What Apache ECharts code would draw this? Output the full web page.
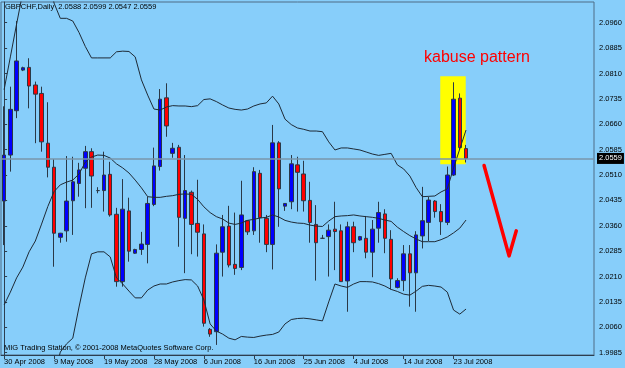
<!DOCTYPE html>
<html><head><meta charset="utf-8">
<script src="https://cdn.jsdelivr.net/npm/echarts@6/dist/echarts.min.js"></script>
<style>html,body{margin:0;padding:0;background:#87cefa;}#c{width:625px;height:368px;}</style>
</head><body><div id="c"></div>
<script>
const symbolName = 'GBPCHF,Daily';
const dates = ['30 Apr 2008','1 May 2008','2 May 2008','4 May 2008','5 May 2008','6 May 2008','7 May 2008','8 May 2008',
'9 May 2008','11 May 2008','12 May 2008','13 May 2008','14 May 2008','15 May 2008','16 May 2008','18 May 2008',
'19 May 2008','20 May 2008','21 May 2008','22 May 2008','23 May 2008','25 May 2008','26 May 2008','27 May 2008',
'28 May 2008','29 May 2008','30 May 2008','1 Jun 2008','2 Jun 2008','3 Jun 2008','4 Jun 2008','5 Jun 2008',
'6 Jun 2008','8 Jun 2008','9 Jun 2008','10 Jun 2008','11 Jun 2008','12 Jun 2008','13 Jun 2008','15 Jun 2008',
'16 Jun 2008','17 Jun 2008','18 Jun 2008','19 Jun 2008','20 Jun 2008','22 Jun 2008','23 Jun 2008','24 Jun 2008',
'25 Jun 2008','26 Jun 2008','27 Jun 2008','29 Jun 2008','30 Jun 2008','1 Jul 2008','2 Jul 2008','3 Jul 2008',
'4 Jul 2008','6 Jul 2008','7 Jul 2008','8 Jul 2008','9 Jul 2008','10 Jul 2008','11 Jul 2008','13 Jul 2008',
'14 Jul 2008','15 Jul 2008','16 Jul 2008','17 Jul 2008','18 Jul 2008','20 Jul 2008','21 Jul 2008','22 Jul 2008',
'23 Jul 2008','24 Jul 2008','25 Jul 2008'];

const open = [2.0433,2.0569,2.0700,2.0820,2.0828,2.0776,2.0751,2.0604,2.0533,2.0326,2.0345,2.0434,2.0485,2.0530,2.0579,2.0464,
2.0464,2.0512,2.0394,2.0195,2.0404,2.0279,2.0290,2.0305,2.0423,2.0535,2.0738,2.0574,2.0592,2.0382,2.0459,2.0367,
2.0336,2.0054,2.0047,2.0282,2.0359,2.0246,2.0237,2.0375,2.0345,2.0515,2.0382,2.0305,2.0605,2.0418,2.0431,2.0540,
2.0513,2.0435,2.0364,2.0323,2.0328,2.0350,2.0345,2.0197,2.0357,2.0318,2.0323,2.0282,2.0353,2.0395,2.0320,2.0178,
2.0198,2.0277,2.0221,2.0330,2.0370,2.0433,2.0402,2.0370,2.0510,2.0737,2.0588];
const high = [2.0713,2.0771,2.0965,2.0830,2.0855,2.0786,2.0771,2.0725,2.0557,2.0339,2.0566,2.0564,2.0546,2.0596,2.0589,2.0474,
2.0579,2.0549,2.0413,2.0498,2.0443,2.0292,2.0342,2.0446,2.0591,2.0764,2.0781,2.0605,2.0599,2.0569,2.0464,2.0496,
2.0364,2.0058,2.0305,2.0392,2.0419,2.0399,2.0493,2.0377,2.0533,2.0525,2.0392,2.0658,2.0610,2.0427,2.0569,2.0564,
2.0552,2.0490,2.0421,2.0333,2.0364,2.0431,2.0364,2.0372,2.0372,2.0330,2.0389,2.0377,2.0431,2.0409,2.0347,2.0205,
2.0303,2.0303,2.0344,2.0475,2.0446,2.0436,2.0424,2.0535,2.0784,2.0751,2.0599];
const low = [2.0303,2.0520,2.0678,2.0817,2.0707,2.0604,2.0579,2.0503,2.0239,2.0310,2.0313,2.0333,2.0446,2.0412,2.0413,2.0456,
2.0402,2.0387,2.0180,2.0180,2.0254,2.0277,2.0274,2.0249,2.0418,2.0523,2.0623,2.0561,2.0298,2.0220,2.0276,2.0269,
2.0062,2.0032,2.0008,2.0210,2.0237,2.0215,2.0229,2.0333,2.0333,2.0310,2.0282,2.0231,2.0357,2.0404,2.0409,2.0402,
2.0402,2.0310,2.0198,2.0321,2.0210,2.0229,2.0194,2.0106,2.0282,2.0316,2.0264,2.0208,2.0310,2.0279,2.0172,2.0175,
2.0167,2.0121,2.0106,2.0293,2.0315,2.0384,2.0333,2.0362,2.0507,2.0584,2.0547];
const close = [2.0569,2.0704,2.0847,2.0827,2.0773,2.0749,2.0608,2.0533,2.0338,2.0338,2.0433,2.0490,2.0525,2.0579,2.0507,2.0464,
2.0510,2.0392,2.0195,2.0409,2.0285,2.0290,2.0306,2.0426,2.0537,2.0734,2.0655,2.0589,2.0385,2.0464,2.0364,2.0341,
2.0072,2.0040,2.0279,2.0357,2.0244,2.0234,2.0392,2.0342,2.0520,2.0384,2.0305,2.0605,2.0469,2.0426,2.0543,2.0518,
2.0434,2.0370,2.0310,2.0323,2.0347,2.0343,2.0195,2.0357,2.0310,2.0328,2.0282,2.0350,2.0399,2.0323,2.0203,2.0198,
2.0277,2.0221,2.0333,2.0375,2.0436,2.0402,2.0372,2.0510,2.0734,2.0591,2.0559];

const bbUpper = [2.0762,2.0859,2.0956,2.1051,2.1116,2.1145,2.1145,2.1101,2.1018,2.0973,2.0973,2.0965,2.0931,2.0890,2.0856,2.0856,
2.0856,2.0856,2.0874,2.0876,2.0875,2.0859,2.0791,2.0746,2.0705,2.0702,2.0711,2.0715,2.0714,2.0714,2.0712,2.0715,
2.0733,2.0735,2.0727,2.0717,2.0708,2.0704,2.0702,2.0705,2.0714,2.0720,2.0723,2.0743,2.0720,2.0675,2.0659,2.0649,
2.0645,2.0640,2.0640,2.0638,2.0608,2.0584,2.0590,2.0590,2.0587,2.0584,2.0578,2.0572,2.0568,2.0571,2.0574,2.0540,
2.0528,2.0507,2.0473,2.0446,2.0447,2.0448,2.0460,2.0469,2.0531,2.0587,2.0643];
const bbMiddle = [2.0126,2.0164,2.0206,2.0238,2.0283,2.0315,2.0365,2.0417,2.0461,2.0481,2.0489,2.0495,2.0513,2.0548,2.0563,2.0569,
2.0568,2.0560,2.0543,2.0531,2.0516,2.0495,2.0472,2.0446,2.0444,2.0444,2.0447,2.0449,2.0453,2.0454,2.0453,2.0438,
2.0416,2.0399,2.0387,2.0380,2.0368,2.0364,2.0368,2.0376,2.0379,2.0383,2.0385,2.0392,2.0386,2.0376,2.0371,2.0368,
2.0367,2.0362,2.0359,2.0358,2.0374,2.0387,2.0389,2.0390,2.0392,2.0389,2.0387,2.0385,2.0382,2.0377,2.0373,2.0356,
2.0343,2.0331,2.0321,2.0313,2.0313,2.0313,2.0319,2.0327,2.0339,2.0353,2.0377];
const bbLower = [1.9491,1.9470,1.9455,1.9426,1.9449,1.9482,1.9585,1.9733,1.9910,1.9987,2.0011,2.0028,2.0120,2.0206,2.0277,2.0283,
2.0283,2.0268,2.0206,2.0188,2.0167,2.0147,2.0147,2.0170,2.0182,2.0188,2.0188,2.0194,2.0198,2.0201,2.0200,2.0182,
2.0141,2.0070,2.0049,2.0040,2.0028,2.0023,2.0033,2.0031,2.0030,2.0034,2.0037,2.0039,2.0046,2.0070,2.0083,2.0086,
2.0087,2.0085,2.0082,2.0079,2.0135,2.0188,2.0182,2.0178,2.0188,2.0195,2.0195,2.0194,2.0189,2.0182,2.0172,2.0166,
2.0158,2.0155,2.0167,2.0181,2.0184,2.0182,2.0179,2.0164,2.0111,2.0099,2.0114];

const yTickLabels = [1.9985,2.0060,2.0135,2.0210,2.0285,2.0360,2.0435,2.0510,2.0585,2.0660,2.0735,2.0810,2.0885,2.0960];
const bidPrice = 2.0559;
const arrowX = [76.89, 80.89, 82.05];
const arrowY = [2.0538, 2.0271, 2.0345];
const boxX = [69.87, 73.95];
const boxY = [2.0802, 2.0542];
const noteText = 'kabuse pattern';
const copyrightText = 'MIG Trading Station, \u00a9 2001-2008 MetaQuotes Software Corp.';

const SLOTS = 95;
const Y_MIN = 1.99782, Y_MAX = 2.10212;
const FONT = '"Liberation Sans", Arial, sans-serif';
const categories = dates.concat(new Array(SLOTS - dates.length).fill(''));
const last = dates.length - 1;
const header = symbolName + '  ' + [open[last], high[last], low[last], close[last]].map(v => v.toFixed(4)).join(' ');
const candles = dates.map((d, i) => [open[i], close[i], low[i], high[i]]);
const labelEvery = (idx, val) => idx % 8 === 0 && val !== '';

const chart = echarts.init(document.getElementById('c'), null, {renderer: 'canvas'});
chart.setOption({
  animation: false,
  backgroundColor: '#87cefa',
  title: {text: header, left: 5, top: 3, padding: 0,
    textStyle: {fontSize: 7.5, fontWeight: 'normal', color: '#000', fontFamily: FONT}},
  grid: {left: 1, right: 31, top: 2, bottom: 13, show: true, borderColor: '#4f6d86', borderWidth: 1, backgroundColor: 'transparent'},
  xAxis: [{
    type: 'category', data: categories, boundaryGap: true,
    axisLine: {show: true, lineStyle: {color: '#2c3e50'}},
    axisTick: {show: true, alignWithLabel: true, interval: labelEvery, length: 4, lineStyle: {color: '#2c3e50'}},
    axisLabel: {interval: labelEvery, align: 'left', margin: 3, fontSize: 7.5, color: '#000', fontFamily: FONT},
    splitLine: {show: false}
  }, {
    type: 'value', min: -0.5, max: SLOTS - 0.5, show: false
  }],
  yAxis: {
    type: 'value', position: 'right', min: Y_MIN, max: Y_MAX,
    splitLine: {show: false},
    axisLine: {show: true, lineStyle: {color: '#2c3e50'}},
    axisTick: {show: true, length: 3, customValues: yTickLabels, lineStyle: {color: '#2c3e50'}},
    axisLabel: {customValues: yTickLabels, formatter: v => v.toFixed(4), margin: 5, fontSize: 7.5, color: '#000', fontFamily: FONT, hideOverlap: false}
  },
  graphic: [
    {type: 'text', left: 424, top: 50, z: 100, style: {text: noteText, fill: '#ff0000', fontSize: 16, fontFamily: FONT}},
    {type: 'text', left: 4, top: 344, z: 100, style: {text: copyrightText, fill: '#000', fontSize: 7.5, fontFamily: FONT}}
  ],
  series: [
    {
      type: 'line', xAxisIndex: 1, z: 1, data: [[boxX[0], boxY[0]]], showSymbol: false, symbol: 'none',
      lineStyle: {width: 0}, silent: true,
      markArea: {silent: true, itemStyle: {color: '#ffff00', opacity: 1},
        data: [[{coord: [boxX[0], boxY[0]]}, {coord: [boxX[1], boxY[1]]}]]}
    },
    {
      type: 'line', xAxisIndex: 1, z: 2, data: [[boxX[0], bidPrice]], showSymbol: false, symbol: 'none',
      lineStyle: {width: 0}, silent: true,
      markLine: {silent: true, symbol: ['none', 'none'], animation: false, precision: 4,
        lineStyle: {color: '#7896ab', width: 1.5, type: 'solid'},
        label: {show: true, position: 'end', distance: 3, formatter: bidPrice.toFixed(4), color: '#fff',
          backgroundColor: '#000', padding: [2, 2, 1, 2], fontSize: 7.5, fontFamily: FONT},
        data: [{yAxis: bidPrice}]}
    },
    {
      type: 'candlestick', z: 3, data: candles, barWidth: 4,
      itemStyle: {color: '#0000ff', color0: '#ff0000', borderColor: '#2a3846', borderColor0: '#2a3846',
        borderColorDoji: '#2a3846', borderWidth: 1}
    },
    {type: 'line', z: 4, data: bbUpper, symbol: 'none', lineStyle: {color: '#1e2a36', width: 1}, silent: true},
    {type: 'line', z: 4, data: bbMiddle, symbol: 'none', lineStyle: {color: '#1e2a36', width: 1}, silent: true},
    {type: 'line', z: 4, data: bbLower, symbol: 'none', lineStyle: {color: '#1e2a36', width: 1}, silent: true},
    {
      type: 'line', xAxisIndex: 1, z: 5, data: arrowX.map((x, k) => [x, arrowY[k]]), symbol: 'none',
      lineStyle: {color: '#ff0000', width: 3.5, cap: 'round', join: 'round'}, silent: true
    }
  ]
});
</script>
</body></html>
